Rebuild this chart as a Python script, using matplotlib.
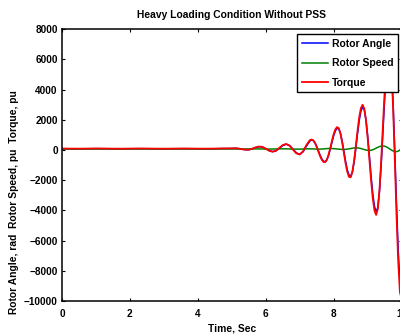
"""
    Rotor angle / speed / torque response under heavy loading, no PSS
"""
import numpy as np
import matplotlib
matplotlib.use("Agg")
import matplotlib.pyplot as plt

# sample times (s): coarse where flat, finer where the swing grows
time = np.concatenate([
    np.linspace(0.0, 5.0, 21),
    np.linspace(5.1, 7.3, 23),
    np.linspace(7.35, 10.0, 54),
])

rotor_angle = [
    80, 75, 70, 78, 85, 80, 72, 70, 78, 84, 80, 74, 70, 76, 82, 80, 74, 72, 78, 90, 95,
    110, 93, 54, 19, 13, 68, 154, 214, 200, 95, -35, -108, -61, 106, 290, 379, 296, 58,
    -187, -290, -120, 268, 596,
    658, 621, 470, 229, -60, -349, -590, -741, -777, -646, -350, 62, 519, 946, 1268, 1434,
    1399, 1095, 572, -83, -747, -1305, -1659, -1741, -1458, -819, 65, 1035, 1919, 2558,
    2841, 2680, 2016, 953, -354, -1699, -2880, -3721, -4090, -3814, -2701, -931, 1200,
    3331, 5101, 6214, 6468, 5428, 3092, -108, -3572, -6644, -8748, -9500,
]

rotor_speed = [
    66, 64, 60, 63, 67, 65, 62, 60, 64, 67, 65, 62, 60, 63, 67, 65, 62, 61, 64, 68, 66,
    64, 62, 60, 62, 66, 70, 72, 70, 66, 62, 60, 62, 66, 72, 76, 74, 68, 60, 56, 58, 64,
    72, 76,
    72, 70, 62, 57, 56, 58, 63, 70, 80, 90, 95, 96, 94, 88, 78, 66, 54, 43, 37, 36, 40,
    54, 73, 95, 116, 132, 140, 138, 123, 96, 63, 28, -2, -22, -29, -18, 14, 62, 118, 175,
    223, 255, 266, 251, 208, 144, 69, -4, -66, -104, -113, -80, -3, 106,
]

torque = [
    95, 90, 85, 92, 100, 96, 88, 85, 92, 98, 95, 88, 84, 90, 98, 95, 88, 86, 93, 104, 108,
    115, 93, 50, 17, 18, 83, 173, 228, 200, 81, -53, -116, -47, 139, 326, 398, 286, 23,
    -224, -299, -82, 338, 653,
    693, 637, 463, 198, -108, -408, -650, -793, -809, -645, -312, 133, 614, 1052, 1370,
    1516, 1443, 1085, 508, -191, -881, -1442, -1777, -1812, -1458, -740, 214, 1233, 2135,
    2758, 2993, 2749, 1980, 814, -581, -1982, -3184, -4003, -4302, -3896, -2609, -670,
    1596, 3805, 5583, 6633, 6729, 5434, 2811, -638, -4265, -7384, -9410, -9850,
]

x_ticks = [0, 2, 4, 6, 8, 10]
y_ticks = [-10000, -8000, -6000, -4000, -2000, 0, 2000, 4000, 6000, 8000]


def plot_response(save_plot: str = "out.png"):
    plt.rcParams["font.family"] = ["Liberation Sans", "DejaVu Sans"]
    plt.rcParams["font.weight"] = "bold"

    fig = plt.figure(figsize=(4.0, 3.35), dpi=100)
    ax = fig.add_axes([0.155, 0.1015, 0.849, 0.8115])

    ax.plot(time, rotor_angle, color="#0000ff", lw=1.1, label="Rotor Angle")
    ax.plot(time, rotor_speed, color="#008000", lw=1.1, label="Rotor Speed")
    ax.plot(time, torque, color="#ff0000", lw=1.3, label="Torque")

    ax.set_xlim(0, 10)
    ax.set_ylim(-10000, 8000)
    ax.set_xticks(x_ticks)
    ax.set_yticks(y_ticks)
    ax.tick_params(direction="in", length=2.5, width=0.8, top=True, right=True,
                   labelsize=7.2)
    ax.tick_params(axis="x", pad=5.5)
    ax.tick_params(axis="y", pad=3)
    for lab in ax.get_xticklabels() + ax.get_yticklabels():
        lab.set_fontweight("bold")
    for sp in ax.spines.values():
        sp.set_linewidth(1.1)

    ax.set_title("Heavy Loading Condition Without PSS", fontsize=7.4,
                 fontweight="bold", y=1.052, pad=0, va="center")
    ax.set_xlabel("Time, Sec", fontsize=7.4, fontweight="bold", va="center")
    ax.xaxis.set_label_coords(0.5, -0.103)
    ax.set_ylabel("Rotor Angle, rad  Rotor Speed, pu  Torque, pu", fontsize=7.4,
                  fontweight="bold", va="center")
    ax.yaxis.set_label_coords(-0.141, 0.364)

    leg = ax.legend(loc="upper right", bbox_to_anchor=(0.9897, 0.9816),
                    borderaxespad=0, fancybox=False, framealpha=1,
                    prop={"size": 7.5, "weight": "bold"},
                    handlelength=2.5, handletextpad=0.35, labelspacing=0.9,
                    borderpad=0.45)
    leg.get_frame().set_edgecolor("black")
    leg.get_frame().set_linewidth(1.0)

    fig.savefig(save_plot, dpi=100)


if __name__ == "__main__":
    plot_response()
